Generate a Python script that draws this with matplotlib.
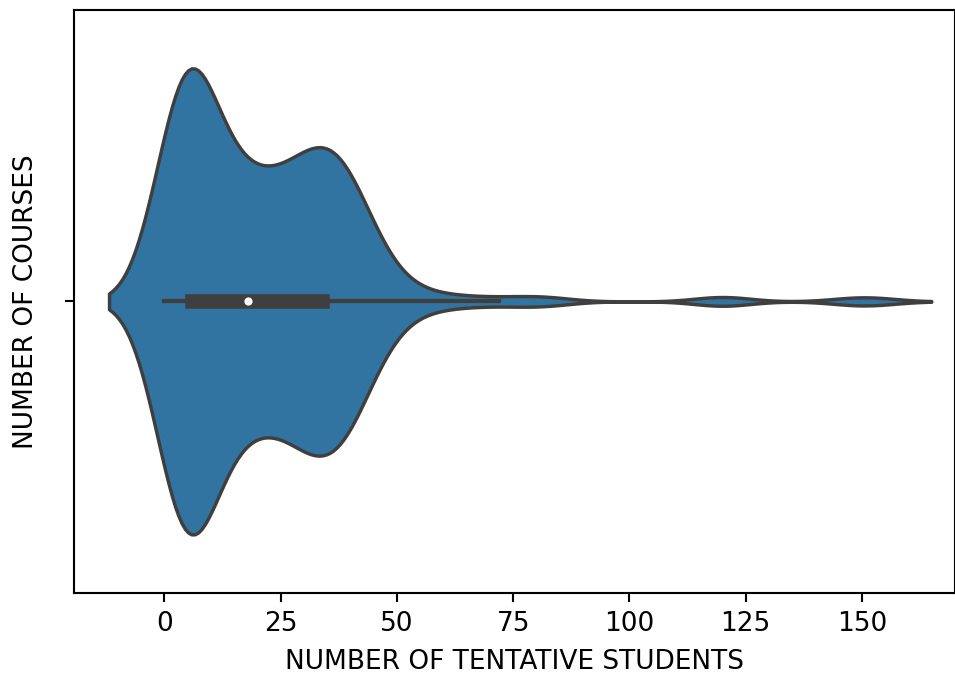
import numpy as np
import seaborn as sns
import matplotlib.pyplot as plt

# 受講予定者数（値ごとのコース数）
student_values = [
    0, 1, 2, 3, 4, 5, 6, 7, 8, 9, 10, 11,
    12, 13, 14, 15, 16, 17, 18, 19, 20,
    21, 22, 23, 24, 25, 26, 27, 28, 29, 30, 31, 32, 33, 34,
    35, 36, 37, 38, 39,
    40, 41, 42, 43, 44, 45, 46, 47,
    48, 49, 51, 53, 56, 60,
    65, 72, 79, 83, 119, 121, 148, 153,
]
course_counts = [
    6, 8, 10, 11, 13, 15, 13, 9, 7, 6, 5, 4,
    4, 4, 4, 4, 4, 4, 4, 4, 4,
    4, 4, 4, 3, 4, 3, 4, 4, 5, 5, 5, 5, 5, 5,
    5, 6, 6, 6, 5,
    5, 4, 4, 3, 2, 2, 1, 1,
    1, 1, 1, 1, 1, 1,
    1, 1, 1, 1, 1, 1, 1, 1,
]

students = np.repeat(student_values, course_counts)

fig = plt.figure(figsize=(956 / 190, 675 / 190), dpi=190)
ax = fig.add_axes([0.077, 0.122, 0.922, 0.863])
sns.violinplot(
    x=students, ax=ax, linewidth=1.3, bw_adjust=0.85, gridsize=250,
    inner_kws=dict(box_width=5.5, whis_width=1.6, marker='o', markersize=2),
)
ax.set_xlim(-19.5, 170)
ax.set_yticks([0])
ax.set_yticklabels([''])
ax.set_xlabel('NUMBER OF TENTATIVE STUDENTS', labelpad=4.5)
ax.set_ylabel('NUMBER OF COURSES', labelpad=6)
fig.savefig('out.png')
